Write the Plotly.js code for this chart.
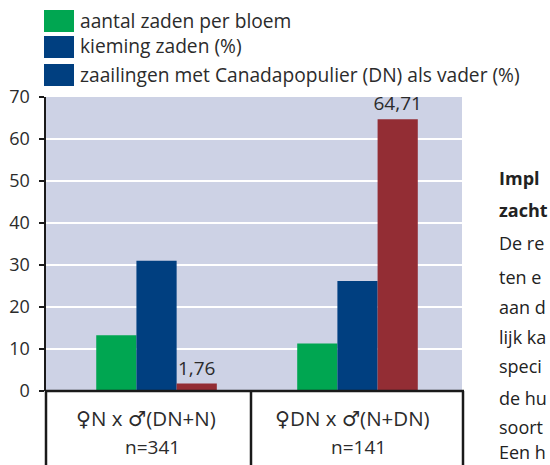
<!DOCTYPE html>
<html>
<head>
<meta charset="utf-8">
<script src="https://cdn.plot.ly/plotly-3.0.1.min.js"></script>
<style>
html, body { margin: 0; padding: 0; background: #fff; }
#chart { width: 550px; height: 465px; }
</style>
</head>
<body>
<div id="chart"></div>
<script>
// ---- data ----
const categories = ['♀N x ♂(DN+N)', '♀DN x ♂(N+DN)'];
const sampleSizes = ['n=341', 'n=141'];
const seriesNames = [
  'aantal zaden per bloem',
  'kieming zaden (%)',
  'zaailingen met Canadapopulier (DN) als vader (%)'
];
const seedsPerFlower = [13.3, 11.3];
const germination = [31.0, 26.2];
const dnFather = [1.76, 64.71];
const dnFatherLabels = ['1,76', '64,71'];
const yTickValues = [0, 10, 20, 30, 40, 50, 60, 70];
const sideTextLines = ['Impl', 'zacht', 'De re', 'ten e', 'aan d', 'lijk ka', 'speci', 'de hu', 'soort', 'Een h'];

// ---- style ----
const barColors = ['#00a651', '#003f80', '#932d34'];
const legendSwatchColors = ['#00a651', '#003f80', '#003f80'];
const FONT = '"Open Sans", "DejaVu Sans", sans-serif';
const TXT = '#2b2b2b';

// layout geometry (pixels)
const L = 46, R = 462, T = 97, B = 391, W = 550, H = 465;
const px = v => (v - L) / (R - L);
const py = v => (B - v) / (B - T);

const traces = [
  { type: 'bar', x: categories, y: seedsPerFlower, name: seriesNames[0], marker: { color: barColors[0] }, hoverinfo: 'skip' },
  { type: 'bar', x: categories, y: germination, name: seriesNames[1], marker: { color: barColors[1] }, hoverinfo: 'skip' },
  { type: 'bar', x: categories, y: dnFather, name: seriesNames[2], marker: { color: barColors[2] },
    text: dnFatherLabels, textposition: 'outside', cliponaxis: false, constraintext: 'none',
    textfont: { family: FONT, size: 19, color: TXT }, hoverinfo: 'skip' }
];

const shapes = [];
const annotations = [];

// legend drawn manually (swatches + labels)
const legendRows = [21, 47, 75];
seriesNames.forEach((name, i) => {
  shapes.push({ type: 'rect', xref: 'paper', yref: 'paper',
    x0: px(44), x1: px(74), y0: py(legendRows[i] - 11), y1: py(legendRows[i] + 11),
    fillcolor: legendSwatchColors[i], line: { width: 0 } });
  annotations.push({ xref: 'paper', yref: 'paper', x: px(78), y: py(legendRows[i] - 1),
    xanchor: 'left', yanchor: 'middle', showarrow: false, text: name,
    font: { family: FONT, size: 19.2, color: TXT } });
});

// category boxes below the axis
const boxLines = [L, 251, 463];
boxLines.forEach(xv => {
  shapes.push({ type: 'line', xref: 'paper', yref: 'paper',
    x0: px(xv), x1: px(xv), y0: py(B), y1: py(H + 5), line: { color: '#1a1a1a', width: 2.5 } });
});
shapes.push({ type: 'line', xref: 'paper', yref: 'paper',
  x0: px(L), x1: px(464), y0: 0, y1: 0, line: { color: '#1a1a1a', width: 2.5 } });

const boxCenters = [146, 352];
categories.forEach((c, i) => {
  annotations.push({ xref: 'paper', yref: 'paper', x: px(boxCenters[i]), y: py(418),
    xanchor: 'center', yanchor: 'middle', showarrow: false, text: c,
    font: { family: FONT, size: 20.5, color: TXT } });
  annotations.push({ xref: 'paper', yref: 'paper', x: px(boxCenters[i] + 6), y: py(447),
    xanchor: 'center', yanchor: 'middle', showarrow: false, text: sampleSizes[i],
    font: { family: FONT, size: 19, color: TXT } });
});

// body text on the right (cut off by the page edge in the source)
const sideY = [178, 210, 243, 277, 307, 337, 366, 398, 427, 452];
sideTextLines.forEach((t, i) => {
  annotations.push({ xref: 'paper', yref: 'paper', x: px(497), y: py(sideY[i]),
    xanchor: 'left', yanchor: 'middle', showarrow: false,
    text: i < 2 ? '<b>' + t + '</b>' : t,
    font: { family: FONT, size: 18, color: '#222' } });
});

const layout = {
  width: W, height: H,
  margin: { l: L, r: W - R, t: T, b: H - B, pad: 0 },
  paper_bgcolor: '#ffffff',
  plot_bgcolor: '#cdd2e5',
  showlegend: false,
  barmode: 'group',
  bargap: 0.4,
  bargroupgap: 0,
  font: { family: FONT, color: TXT },
  xaxis: {
    type: 'category', range: [-0.55, 1.52],
    showticklabels: false, ticks: '', showgrid: false, zeroline: false, showline: false
  },
  yaxis: {
    range: [0, 70], tickvals: yTickValues, ticktext: yTickValues.map(String),
    showgrid: true, gridcolor: '#ffffff', gridwidth: 2.5,
    zeroline: false, showline: true, linecolor: '#1a1a1a', linewidth: 2.5,
    ticks: 'outside', ticklen: 5, tickcolor: '#1a1a1a', tickwidth: 1.5,
    ticklabelstandoff: 5,
    tickfont: { family: FONT, size: 18, color: TXT }
  },
  shapes: shapes,
  annotations: annotations
};

Plotly.newPlot('chart', traces, layout, { staticPlot: true, displayModeBar: false });
</script>
</body>
</html>
